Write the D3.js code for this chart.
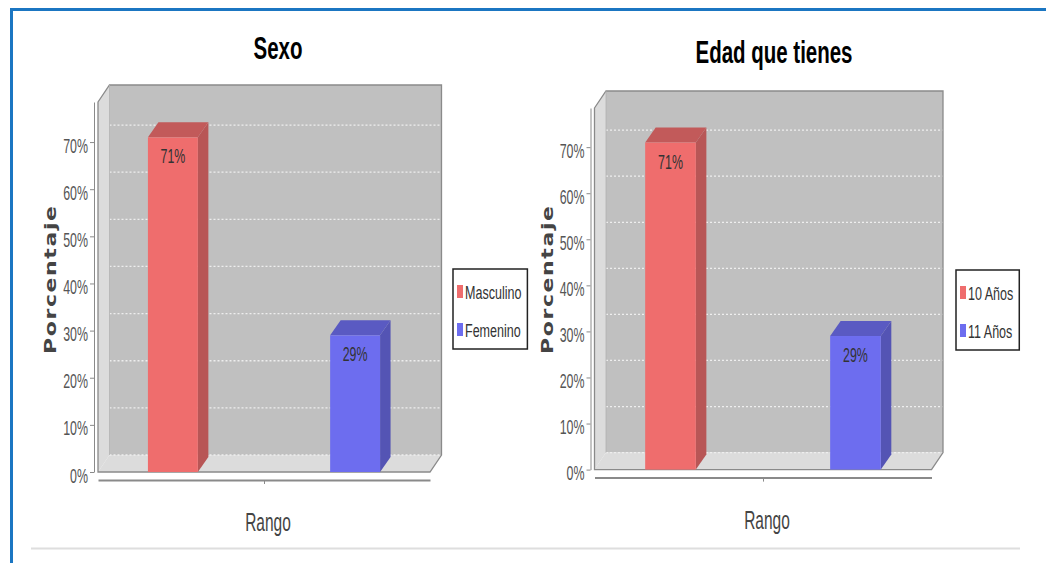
<!DOCTYPE html>
<html>
<head>
<meta charset="utf-8">
<script src="https://cdn.jsdelivr.net/npm/d3@7"></script>
<style>
  html, body { margin: 0; padding: 0; background: #ffffff; }
  svg { display: block; }
</style>
</head>
<body>
<svg id="chart" width="1046" height="563"></svg>
<script>
// ---------------- DATA ----------------
const titles = ["Sexo", "Edad que tienes"];
const categoriesSexo = ["Masculino", "Femenino"];
const valuesSexo = [71, 29];
const categoriesEdad = ["10 Años", "11 Años"];
const valuesEdad = [71, 29];
const yTickValues = [0, 10, 20, 30, 40, 50, 60, 70];
const yAxisLabel = "Porcentaje";
const xAxisLabel = "Rango";
const yMax = 78.5;

// ---------------- STYLE ----------------
const frontColors = ["#ef6d6d", "#6d6def"];
const topColors = ["#c25a5a", "#5a5ac2"];
const sideColors = ["#b85656", "#5454b4"];
const SX = 0.62;          // horizontal condensation of the reference text
const FONT = "'Liberation Sans', Arial, sans-serif";

const svg = d3.select("#chart");

// frame
svg.append("line").attr("x1", 10).attr("x2", 1046).attr("y1", 9.5).attr("y2", 9.5)
  .attr("stroke", "#1b76c2").attr("stroke-width", 3);
svg.append("line").attr("x1", 11.5).attr("x2", 11.5).attr("y1", 8).attr("y2", 563)
  .attr("stroke", "#1b76c2").attr("stroke-width", 3);
svg.append("line").attr("x1", 31).attr("x2", 1020).attr("y1", 548.5).attr("y2", 548.5)
  .attr("stroke", "#dedede").attr("stroke-width", 2);

function ctext(g, x, y, str, o) {
  return g.append("text")
    .attr("transform", `translate(${x},${y}) scale(${o.sx || SX},1)`)
    .attr("text-anchor", o.anchor || "middle")
    .attr("font-family", o.family || FONT)
    .attr("font-size", o.size)
    .attr("font-weight", o.weight || "normal")
    .attr("fill", o.fill || "#444")
    .text(str);
}

const layouts = [
  { fl: 98, fr: 430, y0: 472, yTop: 102, titleX: 278, titleY: 59, ylabX: 50, legX: 453, legY: 269 },
  { fl: 594.5, fr: 931.5, y0: 469.6, yTop: 108, titleX: 774, titleY: 63, ylabX: 547, legX: 956, legY: 270 }
];
const datasets = [
  { cats: categoriesSexo, vals: valuesSexo },
  { cats: categoriesEdad, vals: valuesEdad }
];

const DX = 11.5, DY = 17;    // wall depth
const BDX = 10.5, BDY = 15;  // bar depth

layouts.forEach((L, i) => {
  const D = datasets[i];
  const g = svg.append("g");
  const y = d3.scaleLinear().domain([0, yMax]).range([L.y0, L.yTop]);
  const x = d3.scaleBand().domain(D.cats).range([L.fl, L.fr])
    .paddingInner(0.726).paddingOuter(0.274);

  const bl = L.fl + DX, br = L.fr + DX;
  const bt = L.yTop - DY, bb = L.y0 - DY;

  // back wall
  g.append("rect").attr("x", bl).attr("y", bt).attr("width", br - bl).attr("height", bb - bt)
    .attr("fill", "#c0c0c0");
  // left wall
  g.append("polygon")
    .attr("points", [[L.fl, L.yTop], [bl, bt], [bl, bb], [L.fl, L.y0]].map(p => p.join(",")).join(" "))
    .attr("fill", "#dcdcdc");
  // floor
  g.append("polygon")
    .attr("points", [[L.fl, L.y0], [bl, bb], [br, bb], [L.fr, L.y0]].map(p => p.join(",")).join(" "))
    .attr("fill", "#dcdcdc");
  // gridlines on back wall
  g.selectAll(".grid").data(yTickValues).enter().append("line")
    .attr("x1", bl).attr("x2", br)
    .attr("y1", d => y(d) - DY).attr("y2", d => y(d) - DY)
    .attr("stroke", "#eeeeee").attr("stroke-width", 1.3).attr("stroke-dasharray", "2,2");
  // outline
  g.append("path")
    .attr("d", `M${L.fl},${L.yTop} L${bl},${bt} L${br},${bt} L${br},${bb} L${L.fr},${L.y0} L${L.fl},${L.y0} Z`)
    .attr("fill", "none").attr("stroke", "#8a8a8a").attr("stroke-width", 1.3);
  g.append("line").attr("x1", bl).attr("x2", bl).attr("y1", bt).attr("y2", bb)
    .attr("stroke", "#b0b0b0").attr("stroke-width", 0.8);

  // bars
  D.cats.forEach((c, j) => {
    const x0 = x(c), x1 = x(c) + x.bandwidth();
    const yt = y(D.vals[j]);
    g.append("polygon")
      .attr("points", [[x1, yt], [x1 + BDX, yt - BDY], [x1 + BDX, L.y0 - BDY], [x1, L.y0]].map(p => p.join(",")).join(" "))
      .attr("fill", sideColors[j]);
    g.append("polygon")
      .attr("points", [[x0, yt], [x0 + BDX, yt - BDY], [x1 + BDX, yt - BDY], [x1, yt]].map(p => p.join(",")).join(" "))
      .attr("fill", topColors[j]);
    g.append("rect").attr("x", x0).attr("y", yt).attr("width", x1 - x0).attr("height", L.y0 - yt)
      .attr("fill", frontColors[j]);
    ctext(g, x0 + x.bandwidth() / 2, yt + 26, D.vals[j] + "%", { size: 20, fill: "#333" });
  });

  // y axis
  const ya = g.append("g").attr("transform", `translate(${L.fl - 4},0)`)
    .call(d3.axisLeft(y).tickValues(yTickValues).tickFormat(d => d + "%").tickSize(4).tickSizeOuter(0));
  ya.select(".domain").attr("stroke", "#8a8a8a");
  ya.selectAll(".tick line").attr("stroke", "#8a8a8a");
  ya.selectAll(".tick text")
    .attr("font-family", FONT).attr("font-size", 20).attr("fill", "#555")
    .attr("x", -6 / SX).attr("dy", "0.5em")
    .attr("transform", `scale(${SX},1)`);

  // x axis (single category tick)
  const xp = d3.scalePoint().domain([xAxisLabel]).range([L.fl, L.fr]).padding(0.5);
  const xa = g.append("g").attr("transform", `translate(0,${L.y0 + 8})`)
    .call(d3.axisBottom(xp).tickSize(4).tickSizeOuter(0).tickFormat(""));
  xa.select(".domain").attr("stroke", "#8a8a8a").attr("stroke-width", 2);
  xa.selectAll(".tick line").attr("stroke", "#8a8a8a");

  ctext(g, (L.fl + L.fr) / 2 + 4, L.y0 + 59, xAxisLabel, { size: 25, fill: "#444" });

  // y axis label
  g.append("text")
    .attr("transform", `translate(${L.ylabX + 6},280) scale(0.7,1) rotate(-90)`)
    .attr("text-anchor", "middle")
    .attr("font-family", "'DejaVu Sans', Verdana, sans-serif")
    .attr("font-weight", "bold").attr("font-size", 22).attr("fill", "#444")
    .attr("textLength", 148).attr("lengthAdjust", "spacing")
    .text(yAxisLabel);

  // title
  ctext(g, L.titleX, L.titleY, titles[i], { size: 32, weight: "bold", fill: "#000", sx: 0.64 });

  // legend
  const lg = g.append("g");
  const items = D.cats.map((c, j) => {
    const t = ctext(lg, L.legX + 12, L.legY + 30 + j * 38, c, { size: 19, anchor: "start", fill: "#333", sx: 0.66 });
    lg.append("rect").attr("x", L.legX + 4).attr("y", L.legY + 16 + j * 38).attr("width", 6).attr("height", 13)
      .attr("fill", frontColors[j]);
    return t;
  });
  const maxW = d3.max(items, t => t.node().getComputedTextLength() * 0.66);
  lg.insert("rect", ":first-child")
    .attr("x", L.legX).attr("y", L.legY).attr("width", maxW + 18).attr("height", 80)
    .attr("fill", "#fff").attr("stroke", "#222").attr("stroke-width", 1.5);
});
</script>
</body>
</html>
